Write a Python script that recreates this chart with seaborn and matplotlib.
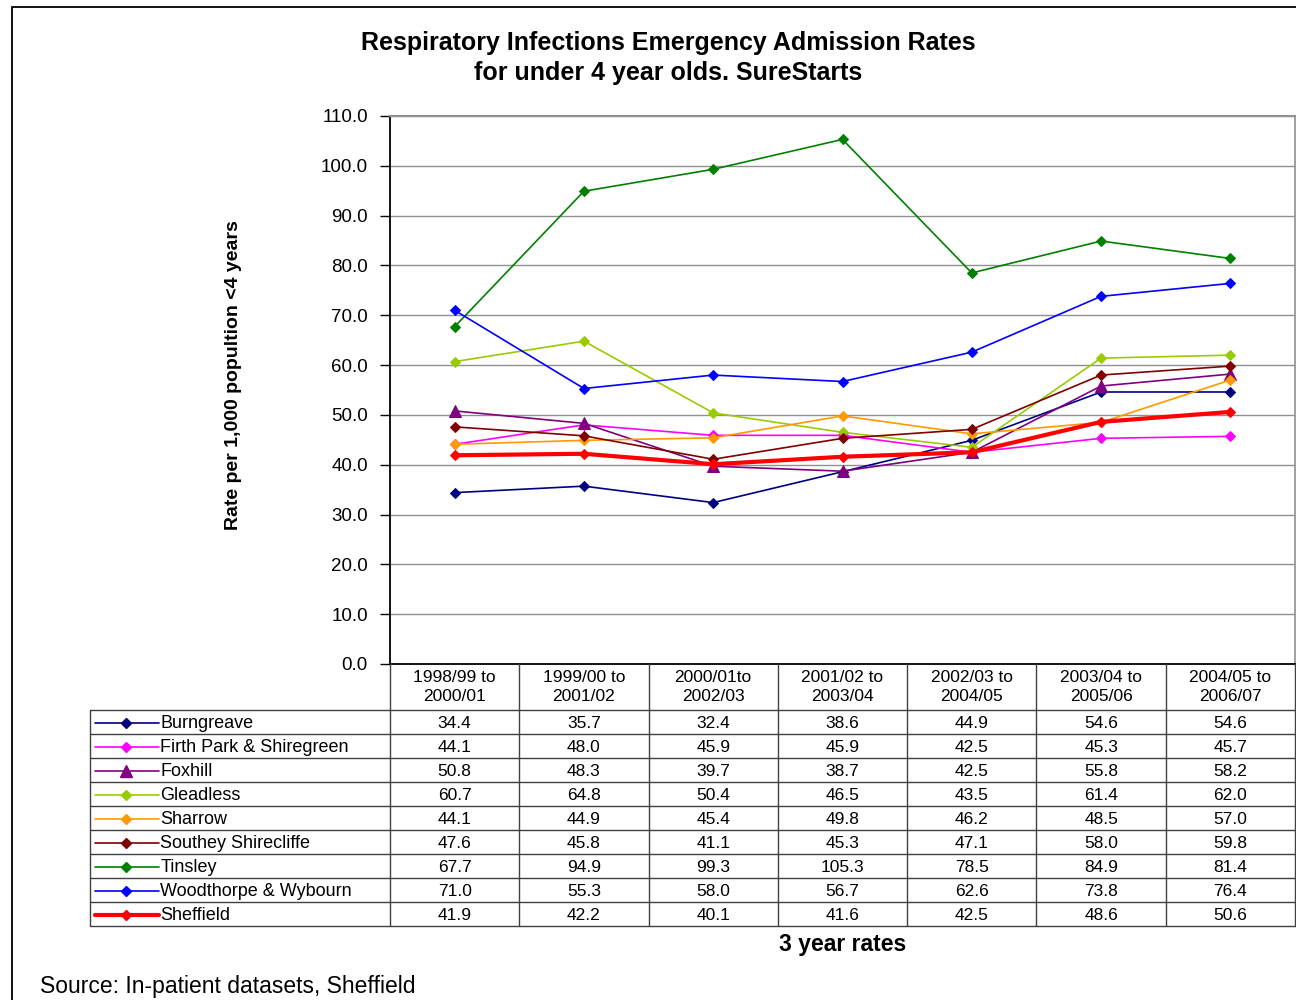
import numpy as np
import pandas as pd
import matplotlib
matplotlib.use("Agg")
import matplotlib.pyplot as plt
from matplotlib.patches import Rectangle
import seaborn as sns

# Data
periods = ["1998/99 to\n2000/01", "1999/00 to\n2001/02", "2000/01to\n2002/03",
           "2001/02 to\n2003/04", "2002/03 to\n2004/05", "2003/04 to\n2005/06",
           "2004/05 to\n2006/07"]
areas = ["Burngreave", "Firth Park & Shiregreen", "Foxhill", "Gleadless", "Sharrow",
         "Southey Shirecliffe", "Tinsley", "Woodthorpe & Wybourn", "Sheffield"]
burngreave = [34.4, 35.7, 32.4, 38.6, 44.9, 54.6, 54.6]
firth_park = [44.1, 48.0, 45.9, 45.9, 42.5, 45.3, 45.7]
foxhill = [50.8, 48.3, 39.7, 38.7, 42.5, 55.8, 58.2]
gleadless = [60.7, 64.8, 50.4, 46.5, 43.5, 61.4, 62.0]
sharrow = [44.1, 44.9, 45.4, 49.8, 46.2, 48.5, 57.0]
southey = [47.6, 45.8, 41.1, 45.3, 47.1, 58.0, 59.8]
tinsley = [67.7, 94.9, 99.3, 105.3, 78.5, 84.9, 81.4]
woodthorpe = [71.0, 55.3, 58.0, 56.7, 62.6, 73.8, 76.4]
sheffield = [41.9, 42.2, 40.1, 41.6, 42.5, 48.6, 50.6]
series = [burngreave, firth_park, foxhill, gleadless, sharrow, southey, tinsley,
          woodthorpe, sheffield]

colors = ["#000080", "#FF00FF", "#800080", "#99CC00", "#FF9900", "#800000",
          "#008000", "#0000FF", "#FF0000"]
markers = ["D", "D", "^", "D", "D", "D", "D", "D", "D"]

df = pd.DataFrame({
    "area": np.repeat(areas, len(periods)),
    "x": np.tile(np.arange(len(periods)), len(areas)),
    "rate": np.concatenate(series),
})

sns.set_style("white")
plt.rcParams["font.family"] = ["Liberation Sans", "DejaVu Sans"]
plt.rcParams["text.color"] = "black"
plt.rcParams["ytick.labelcolor"] = "black"

fig = plt.figure(figsize=(12.96, 10), dpi=100)

# outer frame
fig.patches.append(Rectangle((12 / 1296, -0.02), 1.1, 1.013, transform=fig.transFigure,
                             fill=False, edgecolor="black", linewidth=1.3, zorder=0))

ax = fig.add_axes([390 / 1296, 1 - 664 / 1000, 905 / 1296, 548 / 1000])
for i, name in enumerate(areas):
    sub = df[df["area"] == name]
    lw = 3.0 if name == "Sheffield" else 1.2
    ms = 8 if markers[i] == "^" else 5.5
    sns.lineplot(data=sub, x="x", y="rate", ax=ax, color=colors[i], marker=markers[i],
                 markersize=ms, markeredgecolor=colors[i], linewidth=lw, legend=False,
                 zorder=3 if name != "Sheffield" else 4)

ax.set_xlim(-0.5, len(periods) - 0.5)
ax.set_ylim(0, 110)
ax.set_yticks(np.arange(0, 111, 10))
ax.set_yticklabels([f"{v:.1f}" for v in np.arange(0, 111, 10)], fontsize=13.5)
ax.set_xticks([])
ax.set_xlabel("")
ax.set_ylabel("")
ax.yaxis.grid(True, color="#909090", linewidth=1)
ax.set_axisbelow(True)
ax.tick_params(axis="y", left=True, length=7, width=1, color="black", pad=9)
ax.spines["left"].set_color("black")
ax.spines["left"].set_linewidth(1.3)
ax.spines["bottom"].set_color("black")
ax.spines["bottom"].set_linewidth(1.3)
ax.spines["top"].set_color("#909090")
ax.spines["top"].set_linewidth(1.5)
ax.spines["right"].set_color("#909090")
ax.spines["right"].set_linewidth(1.2)

# data table under the chart
col_px = 905 / len(periods)
left_units = 300 / col_px
hdr = 46 / 24
tab = fig.add_axes([90 / 1296, 1 - 926 / 1000, 1205 / 1296, 262 / 1000])
tab.set_xlim(-0.5 - left_units, len(periods) - 0.5)
tab.set_ylim(len(areas), -hdr)
tab.axis("off")
x0 = -0.5 - left_units
for k in range(len(periods) + 1):
    tab.plot([k - 0.5, k - 0.5], [-hdr, len(areas)], color="#404040", lw=1, clip_on=False)
tab.plot([x0, x0], [0, len(areas)], color="#404040", lw=1, clip_on=False)
for r in range(len(areas) + 1):
    tab.plot([x0, len(periods) - 0.5], [r, r], color="#404040", lw=1, clip_on=False)
for j, lab in enumerate(periods):
    tab.text(j, -hdr / 2, lab, ha="center", va="center", fontsize=12.5, linespacing=1.3)
for i, name in enumerate(areas):
    y = i + 0.55
    lw = 3.0 if name == "Sheffield" else 1.2
    ms = 8 if markers[i] == "^" else 5.5
    tab.plot([x0 + 0.04, x0 + 0.53], [y, y], color=colors[i], lw=lw, clip_on=False)
    tab.plot([x0 + 0.28], [y], marker=markers[i], color=colors[i], markersize=ms,
             clip_on=False)
    tab.text(x0 + 0.545, y, name, ha="left", va="center", fontsize=13)
    for j, v in enumerate(series[i]):
        tab.text(j, y, f"{v:.1f}", ha="center", va="center", fontsize=12.5)

fig.text(668 / 1296, 1 - 58 / 1000,
         "Respiratory Infections Emergency Admission Rates\nfor under 4 year olds. SureStarts",
         ha="center", va="center", fontsize=18, fontweight="bold", linespacing=1.3)
fig.text(233 / 1296, 1 - 375 / 1000, "Rate per 1,000 popultion <4 years", rotation=90,
         ha="center", va="center", fontsize=14, fontweight="bold")
fig.text(843 / 1296, 1 - 944 / 1000, "3 year rates", ha="center", va="center",
         fontsize=16.5, fontweight="bold")
fig.text(40 / 1296, 1 - 986 / 1000, "Source: In-patient datasets, Sheffield",
         ha="left", va="center", fontsize=16.5)

fig.savefig("out.png", dpi=100)
